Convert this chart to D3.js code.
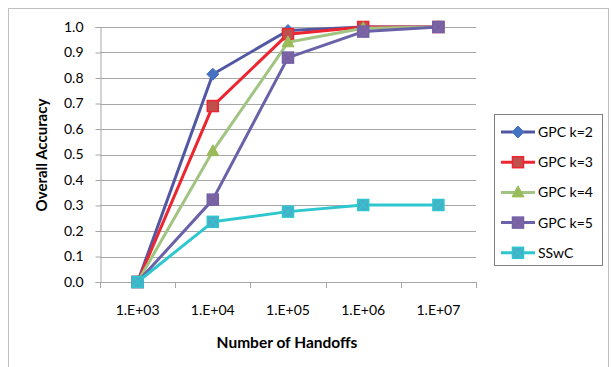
<!DOCTYPE html>
<html>
<head>
<meta charset="utf-8">
<script src="https://cdn.jsdelivr.net/npm/d3@7"></script>
<style>
  html, body { margin: 0; padding: 0; background: #fff; }
  svg { display: block; }
  text { font-family: Lato, "Open Sans", "Liberation Sans", sans-serif; fill: #000; }
</style>
</head>
<body>
<svg id="chart" width="612" height="367"></svg>
<script>
// Handoff counts on the x axis
const categories = ["1.E+03", "1.E+04", "1.E+05", "1.E+06", "1.E+07"];
const yTicks = [0, 0.1, 0.2, 0.3, 0.4, 0.5, 0.6, 0.7, 0.8, 0.9, 1.0];

// Overall accuracy per series
const seriesNames = ["GPC k=2", "GPC k=3", "GPC k=4", "GPC k=5", "SSwC"];
const gpcK2 = [0, 0.815, 0.986, 1.0, 1.0];
const gpcK3 = [0, 0.69, 0.972, 1.0, 1.0];
const gpcK4 = [0, 0.513, 0.94, 0.995, 1.0];
const gpcK5 = [0, 0.323, 0.88, 0.982, 1.0];
const sswc  = [0, 0.236, 0.276, 0.302, 0.302];

const series = [
  { name: seriesNames[0], values: gpcK2, line: "#5257A3", fill: "#4672C4", stroke: "#4672C4", shape: "diamond" },
  { name: seriesNames[1], values: gpcK3, line: "#EC2530", fill: "#C0504D", stroke: "#EC2530", shape: "square" },
  { name: seriesNames[2], values: gpcK4, line: "#A2C482", fill: "#9BBB59", stroke: "#9BBB59", shape: "triangle" },
  { name: seriesNames[3], values: gpcK5, line: "#6A62A8", fill: "#8064A2", stroke: "#7060A8", shape: "xsquare" },
  { name: seriesNames[4], values: sswc,  line: "#2EC7D0", fill: "#4BACC6", stroke: "#2EC7D0", shape: "xsquare" }
];

const svg = d3.select("#chart");

// Outer chart frame
svg.append("rect")
  .attr("x", 8.5).attr("y", 8.5)
  .attr("width", 600).attr("height", 380)
  .attr("fill", "none").attr("stroke", "#BFBFBF").attr("stroke-width", 1);

const plot = { left: 100, right: 476, top: 27, bottom: 282 };

const x = d3.scaleBand().domain(categories).range([plot.left, plot.right]);
const y = d3.scaleLinear().domain([0, 1]).range([plot.bottom, plot.top]);

// Horizontal gridlines
svg.append("g")
  .selectAll("line")
  .data(yTicks.slice(1))
  .join("line")
  .attr("x1", plot.left).attr("x2", plot.right)
  .attr("y1", d => Math.round(y(d)) + 0.5).attr("y2", d => Math.round(y(d)) + 0.5)
  .attr("stroke", "#A6A6A6").attr("stroke-width", 1);

// Y axis
const yAxis = svg.append("g")
  .attr("transform", `translate(${plot.left + 0.5},0)`)
  .call(d3.axisLeft(y).tickValues(yTicks).tickFormat(d3.format(".1f")).tickSize(5).tickPadding(12));
yAxis.select(".domain").attr("stroke", "#A6A6A6");
yAxis.selectAll(".tick line").attr("stroke", "#A6A6A6");
yAxis.selectAll(".tick text").attr("font-size", 14).attr("fill", "#000")
  .style("font-family", "Lato, 'Open Sans', sans-serif");

// X axis with ticks at band boundaries
const xAxisG = svg.append("g");
xAxisG.append("line")
  .attr("x1", plot.left).attr("x2", plot.right)
  .attr("y1", plot.bottom + 0.5).attr("y2", plot.bottom + 0.5)
  .attr("stroke", "#A6A6A6");
const boundaries = categories.map(c => x(c)).concat([x(categories[categories.length - 1]) + x.bandwidth()]);
xAxisG.selectAll("line.tk")
  .data(boundaries)
  .join("line").attr("class", "tk")
  .attr("x1", d => Math.round(d) + 0.5).attr("x2", d => Math.round(d) + 0.5)
  .attr("y1", plot.bottom).attr("y2", plot.bottom + 6)
  .attr("stroke", "#A6A6A6");
xAxisG.selectAll("text")
  .data(categories)
  .join("text")
  .attr("x", d => x(d) + x.bandwidth() / 2)
  .attr("y", 315)
  .attr("text-anchor", "middle")
  .attr("font-size", 14)
  .text(d => d);

// Axis titles
svg.append("text")
  .attr("x", 287).attr("y", 348)
  .attr("text-anchor", "middle")
  .attr("font-size", 15.5).attr("font-weight", "bold")
  .text("Number of Handoffs");
svg.append("text")
  .attr("transform", "translate(47,155) rotate(-90)")
  .attr("text-anchor", "middle")
  .attr("font-size", 15).attr("font-weight", "bold")
  .text("Overall Accuracy");

// Marker drawing
function drawMarker(g, s, cx, cy) {
  if (s.shape === "diamond") {
    g.append("path")
      .attr("d", `M${cx},${cy - 6}L${cx + 6},${cy}L${cx},${cy + 6}L${cx - 6},${cy}Z`)
      .attr("fill", s.fill).attr("stroke", s.stroke).attr("stroke-width", 1);
  } else if (s.shape === "square") {
    g.append("rect")
      .attr("x", cx - 5.5).attr("y", cy - 5.5).attr("width", 11).attr("height", 11)
      .attr("fill", s.fill).attr("stroke", s.stroke).attr("stroke-width", 1.5);
  } else if (s.shape === "triangle") {
    g.append("path")
      .attr("d", `M${cx},${cy - 6.5}L${cx + 6},${cy + 4.5}L${cx - 6},${cy + 4.5}Z`)
      .attr("fill", s.fill).attr("stroke", s.stroke).attr("stroke-width", 1);
  } else {
    g.append("rect")
      .attr("x", cx - 5.5).attr("y", cy - 5.5).attr("width", 11).attr("height", 11)
      .attr("fill", s.fill).attr("stroke", s.stroke).attr("stroke-width", 1.5);
    g.append("path")
      .attr("d", `M${cx - 4},${cy - 4}L${cx + 4},${cy + 4}M${cx + 4},${cy - 4}L${cx - 4},${cy + 4}`)
      .attr("stroke", s.stroke).attr("stroke-width", 1.2);
  }
}

const line = d3.line()
  .x((d, i) => x(categories[i]) + x.bandwidth() / 2)
  .y(d => y(d));

series.forEach(s => {
  const g = svg.append("g");
  g.append("path")
    .attr("d", line(s.values))
    .attr("fill", "none").attr("stroke", s.line).attr("stroke-width", 3)
    .attr("stroke-linejoin", "round");
  s.values.forEach((v, i) => drawMarker(g, s, x(categories[i]) + x.bandwidth() / 2, y(v)));
});

// Legend
const legend = svg.append("g");
legend.append("rect")
  .attr("x", 494.5).attr("y", 114.5).attr("width", 108).attr("height", 151)
  .attr("fill", "#fff").attr("stroke", "#7F7F7F").attr("stroke-width", 1);
series.forEach((s, i) => {
  const ly = 132 + i * 30.2;
  const g = legend.append("g");
  g.append("line")
    .attr("x1", 501).attr("x2", 535).attr("y1", ly).attr("y2", ly)
    .attr("stroke", s.line).attr("stroke-width", 3);
  drawMarker(g, s, 518, ly);
  g.append("text")
    .attr("x", 538).attr("y", ly + 5)
    .attr("font-size", 14)
    .text(s.name);
});
</script>
</body>
</html>
